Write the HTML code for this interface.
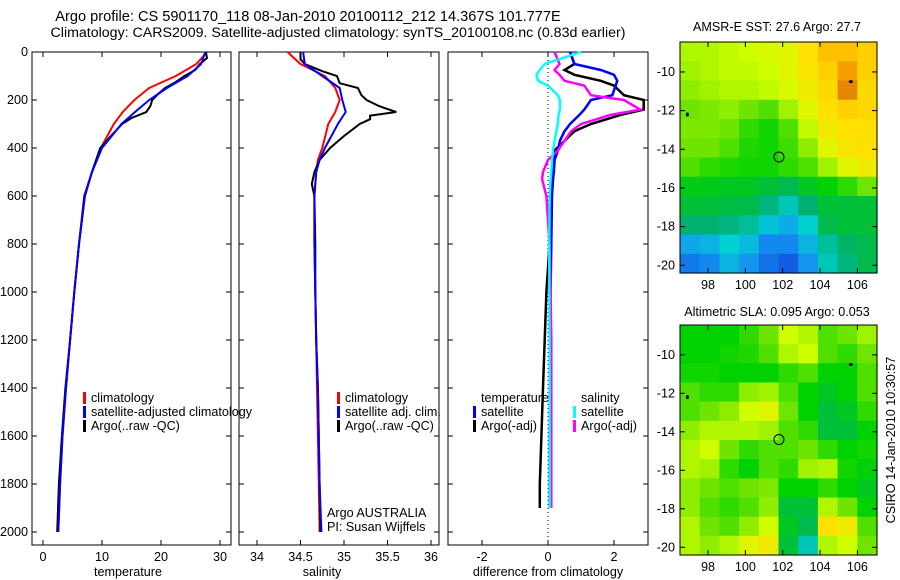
<!DOCTYPE html>
<html><head><meta charset="utf-8"><style>
html,body{margin:0;padding:0;background:#fff;}
svg{display:block;font-family:"Liberation Sans",sans-serif;}
</style></head><body>
<svg id="fig" width="900" height="580" viewBox="0 0 900 580">
<rect width="900" height="580" fill="#fff"/>
<text x="308" y="21" font-size="14.6" text-anchor="middle">Argo profile: CS 5901170_118 08-Jan-2010 20100112_212 14.367S 101.777E</text>
<text x="338" y="37" font-size="14.2" text-anchor="middle">Climatology: CARS2009. Satellite-adjusted climatology: synTS_20100108.nc (0.83d earlier)</text>
<text x="777" y="31" font-size="12.6" text-anchor="middle">AMSR-E SST: 27.6 Argo: 27.7</text>
<text x="777" y="316" font-size="12.6" text-anchor="middle">Altimetric SLA: 0.095 Argo: 0.053</text>
<text transform="translate(895,440) rotate(-90)" font-size="12.6" text-anchor="middle">CSIRO 14-Jan-2010 10:30:57</text>
<g id="plots"></g>
</svg>
<script>
// ---- data ----
const depthT = [0,50,100,150,200,250,300,400,500,600,800,1000,1200,1400,1600,1800,2000];
const tempClim = [27.8,26,22.5,18,15.5,13.5,12,9.8,8.3,7.1,6.1,5.3,4.6,3.9,3.3,2.9,2.6];
const tempSat  = [27.5,26.8,24.5,21,18,15.6,13.3,10,8.3,7.1,6.1,5.3,4.6,3.9,3.3,2.9,2.6];
const depthA = [0,25,50,75,100,125,150,175,200,225,250,275,300,350,400,500,600,800,1000,1200,1400,1600,1800,2000];
const tempArgo = [27.6,27.8,26.6,25.8,24,22.5,20.7,19.5,18.5,18.2,17.5,15,13.4,11.5,9.7,8.3,7,6.1,5.3,4.6,3.8,3.2,2.7,2.4];
const depthS = [0,50,100,150,200,250,300,400,450,500,600,800,1000,1200,1400,1600,1800,2000];
const salClim = [34.35,34.5,34.78,34.9,34.95,34.9,34.82,34.75,34.7,34.68,34.66,34.66,34.67,34.68,34.69,34.7,34.71,34.72];
const salSat  = [34.53,34.55,34.75,34.95,34.98,35.02,34.93,34.78,34.72,34.68,34.66,34.66,34.67,34.68,34.7,34.71,34.72,34.74];
const depthSA = [0,30,50,80,100,130,150,180,200,225,250,265,280,300,350,400,450,500,550,600,800,1000,1200,1400,1600,1800,2000];
const salArgo = [34.5,34.5,34.55,34.75,34.92,34.95,35.16,35.2,35.26,35.4,35.6,35.3,35.3,35.18,35.0,34.84,34.72,34.66,34.63,34.66,34.67,34.67,34.68,34.7,34.71,34.72,34.73];
const depthD = [0,50,75,95,120,140,180,200,240,262,300,330,370,410,450,500,530,600,800,1000,1200,1400,1600,1800,1900];
const dTempSat  = [0.67,0.8,1.6,2.0,2.1,2.05,1.95,1.3,1.1,0.95,0.67,0.5,0.36,0.3,0.2,0.18,0.15,0.12,0.1,0.08,0.06,0.06,0.05,0.05,0.05];
const dTempArgo = [0.67,0.8,0.5,0.8,1.6,2.0,2.3,2.9,2.9,2.2,1.3,0.8,0.5,0.2,0.15,0.15,0.15,0.1,0.05,-0.05,-0.1,-0.15,-0.2,-0.25,-0.25];
const dSalSat   = [1.0,-0.1,-0.25,-0.35,-0.3,0.0,0.3,0.36,0.36,0.32,0.3,0.25,0.2,0.15,0.12,0.1,0.08,0.05,0.04,0.04,0.05,0.05,0.05,0.05,0.05];
const dSalArgo  = [0.2,0.35,0.2,0.35,0.5,1.1,1.3,2.3,2.8,1.9,1.0,0.7,0.5,0.3,0.0,-0.15,-0.18,-0.05,0.05,0.08,0.1,0.1,0.1,0.1,0.1];
const tempTicks = [0,10,20,30];
const salTicks = [34,34.5,35,35.5,36];
const salTickLabels = ["34","34.5","35","35.5","36"];
const diffTicks = [-2,0,2];
const depthTicks = [0,200,400,600,800,1000,1200,1400,1600,1800,2000];
const lonTicks = [98,100,102,104,106];
const latTicks = [-10,-12,-14,-16,-18,-20];
const sstGrid = [
[0.66,0.66,0.67,0.68,0.69,0.70,0.74,0.78,0.78,0.76],
[0.65,0.66,0.67,0.67,0.68,0.70,0.73,0.76,0.82,0.76],
[0.64,0.65,0.66,0.66,0.67,0.69,0.72,0.75,0.85,0.75],
[0.62,0.63,0.64,0.62,0.60,0.65,0.70,0.74,0.76,0.75],
[0.63,0.63,0.62,0.58,0.56,0.60,0.67,0.72,0.74,0.74],
[0.62,0.62,0.60,0.57,0.56,0.59,0.64,0.70,0.73,0.74],
[0.60,0.58,0.57,0.56,0.56,0.58,0.60,0.65,0.70,0.72],
[0.53,0.53,0.52,0.52,0.50,0.48,0.52,0.55,0.58,0.62],
[0.50,0.50,0.49,0.48,0.44,0.40,0.45,0.50,0.50,0.50],
[0.45,0.45,0.44,0.42,0.36,0.33,0.38,0.48,0.50,0.50],
[0.32,0.34,0.38,0.35,0.28,0.28,0.34,0.42,0.46,0.48],
[0.26,0.28,0.34,0.30,0.25,0.22,0.30,0.40,0.44,0.48]];
const slaGrid = [
[0.55,0.55,0.55,0.58,0.62,0.68,0.66,0.60,0.62,0.65],
[0.55,0.55,0.56,0.57,0.60,0.66,0.68,0.60,0.58,0.62],
[0.56,0.56,0.55,0.55,0.55,0.58,0.60,0.55,0.55,0.60],
[0.60,0.58,0.58,0.64,0.65,0.60,0.55,0.52,0.55,0.60],
[0.60,0.62,0.64,0.68,0.70,0.62,0.55,0.50,0.52,0.58],
[0.64,0.66,0.66,0.66,0.65,0.60,0.58,0.50,0.50,0.55],
[0.66,0.68,0.62,0.58,0.60,0.60,0.62,0.58,0.55,0.56],
[0.66,0.65,0.58,0.55,0.60,0.58,0.65,0.66,0.56,0.54],
[0.64,0.62,0.60,0.62,0.63,0.55,0.55,0.58,0.55,0.52],
[0.64,0.60,0.58,0.60,0.64,0.50,0.50,0.66,0.62,0.55],
[0.66,0.62,0.60,0.64,0.68,0.52,0.48,0.74,0.72,0.60],
[0.66,0.64,0.66,0.70,0.72,0.50,0.40,0.66,0.68,0.62]];
const argoLon = 101.8, argoLat = -14.4;

// ---- helpers ----
const NS="http://www.w3.org/2000/svg";
const root=document.getElementById('plots');
function mk(tag,attrs,parent,txt){const e=document.createElementNS(NS,tag);for(const k in attrs)e.setAttribute(k,attrs[k]);if(txt!==undefined)e.textContent=txt;(parent||root).appendChild(e);return e;}
const yD = d => 52 + d*0.24;
const xT = t => 43 + t*5.9;
const xS = s => 257 + (s-34)*87;
const xDf = v => 548 + v*33;
const yTop=52, yBot=545;

function frame(x0,x1,name){
  const r=mk('rect',{x:x0,y:yTop,width:x1-x0,height:yBot-yTop,fill:'none',stroke:'#000','stroke-width':1});
  
  
}
function xticks(ticks,labels,fx,name){
  const g=mk('g',{});
  
  
  ticks.forEach((t,i)=>{const x=fx(t);
    mk('line',{x1:x,x2:x,y1:yBot,y2:yBot-5,stroke:'#000'},g);
    mk('line',{x1:x,x2:x,y1:yTop,y2:yTop+5,stroke:'#000'},g);
    mk('text',{x:x,y:yBot+16,'font-size':12.6,'text-anchor':'middle'},g,labels[i]);});
}
function yticks(x0,x1,labels){
  const g=mk('g',{});
  
  
  depthTicks.forEach(d=>{const y=yD(d);
    mk('line',{x1:x0,x2:x0+5,y1:y,y2:y,stroke:'#000'},g);
    mk('line',{x1:x1,x2:x1-5,y1:y,y2:y,stroke:'#000'},g);
    if(labels) mk('text',{x:x0-4,y:y+4,'font-size':12.6,'text-anchor':'end'},g,String(d));});
}
function line(depths,vals,fx,color,name,w){
  const p=depths.map((d,i)=>fx(vals[i]).toFixed(1)+','+yD(d).toFixed(1)).join(' ');
  const e=mk('polyline',{points:p,fill:'none',stroke:color,'stroke-width':w||2});
  
  
}
function legend(x,y,color,label,name){
  const g=mk('g',{});
  
  
  if(color) mk('rect',{x:x,y:y-10,width:3,height:12,fill:color},g);
  mk('text',{x:x+(color?8:0),y:y,'font-size':12.6},g,label);
}

// panel 1
frame(32,231,'temperature-panel');
yticks(32,231,true);
xticks(tempTicks,tempTicks.map(String),xT,'temperature-x-ticks');
line(depthT,tempClim,xT,'#f00','temp-climatology-line');
line(depthA,tempArgo,xT,'#000','temp-argo-line');
line(depthT,tempSat,xT,'#00f','temp-satellite-line');
mk('text',{x:128,y:576,'font-size':12.6,'text-anchor':'middle'},root,'temperature');
legend(83,402,'#f00','climatology','legend-climatology');
legend(83,416,'#00f','satellite-adjusted climatology','legend-satellite-adjusted');
legend(83,430,'#000','Argo(..raw -QC)','legend-argo');

// panel 2
frame(239,439,'salinity-panel');
yticks(239,439,false);
xticks(salTicks,salTickLabels,xS,'salinity-x-ticks');
line(depthS,salClim,xS,'#f00','sal-climatology-line');
line(depthSA,salArgo,xS,'#000','sal-argo-line');
line(depthS,salSat,xS,'#00f','sal-satellite-line');
mk('text',{x:322,y:576,'font-size':12.6,'text-anchor':'middle'},root,'salinity');
legend(337,402,'#f00','climatology','legend2-climatology');
legend(337,416,'#00f','satellite adj. clim.','legend2-satellite');
legend(337,430,'#000','Argo(..raw -QC)','legend2-argo');
mk('text',{x:327,y:517,'font-size':12.6},root,'Argo AUSTRALIA');
mk('text',{x:327,y:531,'font-size':12.6},root,'PI: Susan Wijffels');

// panel 3
frame(448,648,'difference-panel');
yticks(448,648,false);
xticks(diffTicks,diffTicks.map(String),xDf,'difference-x-ticks');
mk('line',{x1:xDf(0),x2:xDf(0),y1:yTop,y2:yBot,stroke:'#000','stroke-dasharray':'1,3'});
line(depthD,dTempArgo,xDf,'#000','diff-temp-argo-line',2.5);
line(depthD,dTempSat,xDf,'#00f','diff-temp-satellite-line',2.5);
line(depthD,dSalArgo,xDf,'#f0f','diff-sal-argo-line',2.5);
line(depthD,dSalSat,xDf,'#0ff','diff-sal-satellite-line',2.5);
mk('text',{x:548,y:576,'font-size':12.6,'text-anchor':'middle'},root,'difference from climatology');
legend(481,402,null,'temperature','legend3-temperature-header');
legend(473,416,'#00f','satellite','legend3-temp-satellite');
legend(473,430,'#000','Argo(-adj)','legend3-temp-argo');
legend(581,402,null,'salinity','legend3-salinity-header');
legend(573,416,'#0ff','satellite','legend3-sal-satellite');
legend(573,430,'#f0f','Argo(-adj)','legend3-sal-argo');

// maps
const cmapStops=[[0.2,[16,80,224]],[0.3,[20,150,240]],[0.38,[0,208,208]],[0.45,[0,176,112]],[0.55,[0,210,0]],[0.62,[110,228,0]],[0.68,[208,255,0]],[0.74,[255,224,0]],[0.8,[255,176,0]],[0.86,[224,128,0]]];
function cmap(v){
  if(v<=cmapStops[0][0])return 'rgb('+cmapStops[0][1]+')';
  for(let i=1;i<cmapStops.length;i++){if(v<=cmapStops[i][0]){const a=cmapStops[i-1],b=cmapStops[i];const t=(v-a[0])/(b[0]-a[0]);
    return 'rgb('+a[1].map((c,j)=>Math.round(c+(b[1][j]-c)*t)).join(',')+')';}}
  return 'rgb('+cmapStops[cmapStops.length-1][1]+')';
}
function map(grid,y0,y1,name){
  const x0=680,x1=877,lonMin=96.5,lonMax=107.05;
  const latTop=-8.45,latBot=-20.4;
  const xL=l=>x0+(l-lonMin)/(lonMax-lonMin)*(x1-x0);
  const yL=l=>y0+(latTop-l)/(latTop-latBot)*(y1-y0);
  const g=mk('g',{});
  
  
  const rows=grid.length, cols=grid[0].length;
  const cw=(x1-x0)/cols, ch=(y1-y0)/rows;
  grid.forEach((row,r)=>row.forEach((v,c)=>{
    const cell=mk('rect',{x:(x0+c*cw).toFixed(2),y:(y0+r*ch).toFixed(2),width:(cw+0.6).toFixed(2),height:(ch+0.6).toFixed(2),fill:cmap(v)},g);
    
    
  }));
  mk('rect',{x:x0,y:y0,width:x1-x0,height:y1-y0,fill:'none',stroke:'#000'},g);
  lonTicks.forEach(l=>{const x=xL(l);mk('line',{x1:x,x2:x,y1:y1,y2:y1-5,stroke:'#000'},g);mk('line',{x1:x,x2:x,y1:y0,y2:y0+5,stroke:'#000'},g);
    mk('text',{x:x,y:y1+16,'font-size':12.6,'text-anchor':'middle'},g,String(l));});
  latTicks.forEach(l=>{const y=yL(l);mk('line',{x1:x0,x2:x0+5,y1:y,y2:y,stroke:'#000'},g);mk('line',{x1:x1,x2:x1-5,y1:y,y2:y,stroke:'#000'},g);
    mk('text',{x:x0-5,y:y+4,'font-size':12.6,'text-anchor':'end'},g,String(l));});
  mk('circle',{cx:xL(argoLon),cy:yL(argoLat),r:5,fill:'none',stroke:'#000'},g);
  mk('ellipse',{cx:xL(96.9),cy:yL(-12.2),rx:1.5,ry:2,fill:'#000'},g);
  mk('ellipse',{cx:xL(105.65),cy:yL(-10.5),rx:2,ry:1.5,fill:'#000'},g);
}
map(sstGrid,42,273,'sst-map');
map(slaGrid,325,555,'sla-map');
</script>
</body></html>
